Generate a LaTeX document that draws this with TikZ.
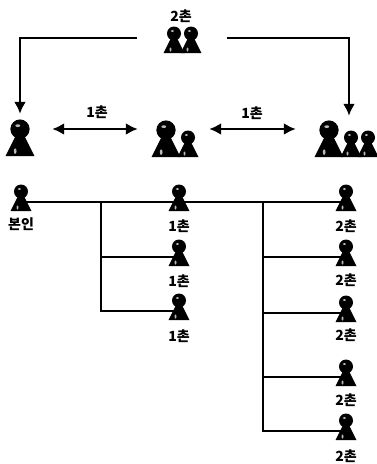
\documentclass[tikz,border=0pt]{standalone}
\usepackage{fontspec}
\setmainfont{Noto Sans CJK KR}
\usepackage{tikz}
\usetikzlibrary{arrows.meta, positioning}

\tikzset{
    pawn/.pic={
        \fill[black] (-10.5,0) -- (-2.5,-16) -- (2.5,-16) -- (10.5,0) -- cycle;
        \fill[black] (0,-19.5) circle (7);
        \fill[gray!55] (-1.6,-22) ellipse (1.8 and 1);
        \fill[gray!55] (-3.5,-3.5) ellipse (1 and 2);
        \node[inner sep=0pt, minimum width=8pt, minimum height=0pt] (-b) at (0,-9) {};
    }
}

\begin{document}
\begin{tikzpicture}[
    x=1pt, y=-1pt,
    font=\fontsize{14}{14}\selectfont\bfseries,
    lbl/.style={inner sep=0pt},
    group/.style={inner sep=0pt, minimum height=#1},
    line/.style={-{Latex[length=12pt, width=12pt]}, line width=2.6pt},
    both/.style={{Latex[length=12pt, width=12pt]}-{Latex[length=12pt, width=12pt]}, line width=2.6pt},
    tree/.style={line width=1.8pt}
]
\useasboundingbox (0,0) rectangle (377,464);

% upper part
\node[group=0pt, minimum width=90pt] (elders) at (182,38) {};
\node[group=30pt, minimum width=64pt] (self) at (20,129) {};
\node[group=26pt, minimum width=71pt] (sibling) at (173.5,129) {};
\node[group=26pt, minimum width=106pt] (uncle) at (349,129) {};

\pic at (174,53) {pawn};
\pic at (191,53) {pawn};
\pic[scale=1.38] at (20,156) {pawn};
\pic[scale=1.38] at (166,157) {pawn};
\pic at (188,157) {pawn};
\pic[scale=1.38] at (329,157) {pawn};
\pic at (351,157) {pawn};
\pic at (368,157) {pawn};

\node[lbl] (t0) at (181,16) {2촌};
\node[lbl] (t1) at (97,112) {1촌};
\node[lbl] (t2) at (252,113) {1촌};

\draw[line] (elders.west) -| (self.north);
\draw[line] (elders.east) -| (uncle.north);
\draw[both] (self.east) -- (sibling.west);
\draw[both] (sibling.east) -- (uncle.west);

% lower part
\pic (me) at (21,211) {pawn};
\pic (c1) at (179,211) {pawn};
\pic (c2) at (179,266) {pawn};
\pic (c3) at (179,320) {pawn};
\pic (d1) at (346,211) {pawn};
\pic (d2) at (346,266) {pawn};
\pic (d3) at (346,322) {pawn};
\pic (d4) at (346,386) {pawn};
\pic (d5) at (346,440) {pawn};

\node[lbl, below=15pt of me-b] (lme) {본인};
\node[lbl, below=17pt of c1-b] (lc1) {1촌};
\node[lbl, below=17pt of c2-b] (lc2) {1촌};
\node[lbl, below=18pt of c3-b] (lc3) {1촌};
\node[lbl, below=17pt of d1-b] (ld1) {2촌};
\node[lbl, below=16pt of d2-b] (ld2) {2촌};
\node[lbl, below=15pt of d3-b] (ld3) {2촌};
\node[lbl, below=16pt of d4-b] (ld4) {2촌};
\node[lbl, below=18pt of d5-b] (ld5) {2촌};

\coordinate (j1) at (101,202);
\coordinate (j2) at (263,202);

\draw[tree] (me-b) -- (c1-b);
\draw[tree] (c1-b) -- (d1-b);
\draw[tree] (j1) |- (c3-b);
\draw[tree] (j1 |- c2-b) -- (c2-b);
\draw[tree] (j2) |- (d5-b);
\draw[tree] (j2 |- d2-b) -- (d2-b);
\draw[tree] (j2 |- d3-b) -- (d3-b);
\draw[tree] (j2 |- d4-b) -- (d4-b);
\end{tikzpicture}
\end{document}
